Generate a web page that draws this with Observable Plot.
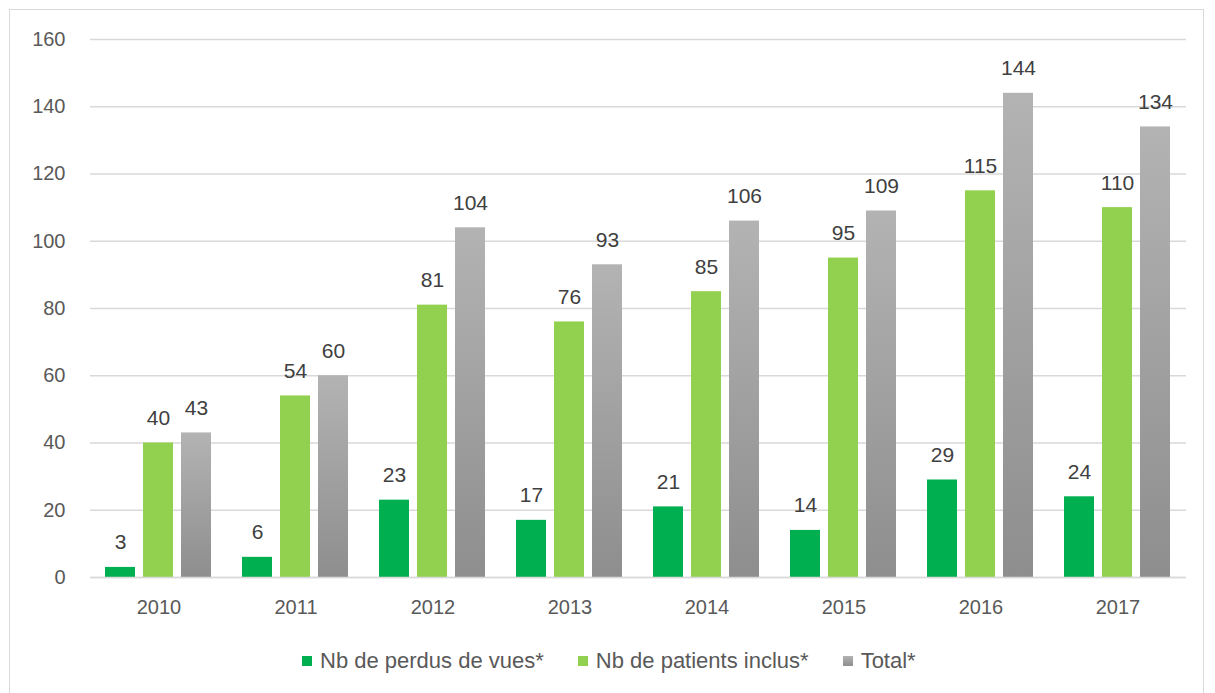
<!DOCTYPE html>
<html>
<head>
<meta charset="utf-8">
<script src="https://cdn.jsdelivr.net/npm/d3@7"></script>
<script src="https://cdn.jsdelivr.net/npm/@observablehq/plot@0.6"></script>
<style>
  html, body { margin: 0; padding: 0; background: #fff; }
  #frame { position: absolute; left: 9px; top: 9px; width: 1195px; height: 700px; border: 1px solid #d9d9d9; box-sizing: border-box; }
  #chart { position: absolute; left: 0; top: 0; }
  #legend { position: absolute; left: 292px; top: 638px; display: flex; align-items: center; font-family: "Liberation Sans", Arial, sans-serif; font-size: 22px; color: #595959; }
  .item { display: flex; align-items: center; margin-right: 34px; }
  .sw { width: 10px; height: 10px; margin-right: 8px; }
</style>
</head>
<body>
<div id="frame"><div id="chart"></div><div id="legend"></div></div>
<script>
const years = ["2010", "2011", "2012", "2013", "2014", "2015", "2016", "2017"];
const seriesNames = ["Nb de perdus de vues*", "Nb de patients inclus*", "Total*"];
const perdus = [3, 6, 23, 17, 21, 14, 29, 24];
const inclus = [40, 54, 81, 76, 85, 95, 115, 110];
const total = [43, 60, 104, 93, 106, 109, 144, 134];
const yTicks = [0, 20, 40, 60, 80, 100, 120, 140, 160];
const colors = ["#00b050", "#92d050", "url(#grayGrad)"];
const legendColors = ["#00b050", "#92d050", "linear-gradient(#b3b3b3, #8e8e8e)"];

const seriesValues = [perdus, inclus, total];
const data = [];
years.forEach((yr, i) => {
  seriesNames.forEach((s, j) => data.push({year: yr, series: s, value: seriesValues[j][i]}));
});

const font = '"Liberation Sans", Arial, sans-serif';

const defs = () => {
  const ns = "http://www.w3.org/2000/svg";
  const d = document.createElementNS(ns, "defs");
  d.innerHTML = `
    <linearGradient id="grayGrad" x1="0" y1="0" x2="0" y2="1">
      <stop offset="0" stop-color="#b3b3b3"/>
      <stop offset="1" stop-color="#8e8e8e"/>
    </linearGradient>
    <filter id="shadow" x="-30%" y="-10%" width="160%" height="120%">
      <feDropShadow dx="1.5" dy="1" stdDeviation="2" flood-color="#000" flood-opacity="0.3"/>
    </filter>`;
  return d;
};

const chart = Plot.plot({
  width: 1193,
  height: 630,
  marginLeft: 76,
  marginRight: 14,
  marginTop: 29,
  marginBottom: 63,
  style: {fontFamily: font, fontSize: "20px", color: "#595959", background: "transparent"},
  fx: {domain: years, padding: 0, label: null, axis: null},
  x: {domain: seriesNames, paddingInner: 0.2, paddingOuter: 0.36, axis: null},
  y: {domain: [0, 160], ticks: yTicks, label: null, grid: false},
  color: {domain: seriesNames, range: colors},
  marks: [
    defs,
    Plot.ruleY(yTicks, {stroke: "#d9d9d9", strokeWidth: 1.3, strokeOpacity: 1}),
    Plot.axisY({ticks: yTicks, tickSize: 0, tickPadding: 25, label: null, fontSize: 20, fill: "#595959"}),
    Plot.axisFx({anchor: "bottom", tickSize: 0, tickPadding: 22, label: null, fontSize: 20, fill: "#595959"}),
    Plot.barY(data, {fx: "year", x: "series", y: "value", fill: (d) => colors[seriesNames.indexOf(d.series)], style: {filter: "url(#shadow)"}}),
    Plot.text(data, {fx: "year", x: "series", y: "value", text: (d) => String(d.value), lineAnchor: "bottom", dy: -18, fontSize: 21, fill: "#404040"}),
    Plot.ruleY([0], {stroke: "#d9d9d9", strokeWidth: 1.5})
  ]
});
document.getElementById("chart").appendChild(chart);

const legend = document.getElementById("legend");
seriesNames.forEach((s, j) => {
  const it = document.createElement("div");
  it.className = "item";
  const sw = document.createElement("div");
  sw.className = "sw";
  sw.style.background = legendColors[j];
  const t = document.createElement("span");
  t.textContent = s;
  it.appendChild(sw); it.appendChild(t);
  legend.appendChild(it);
});
</script>
</body>
</html>
